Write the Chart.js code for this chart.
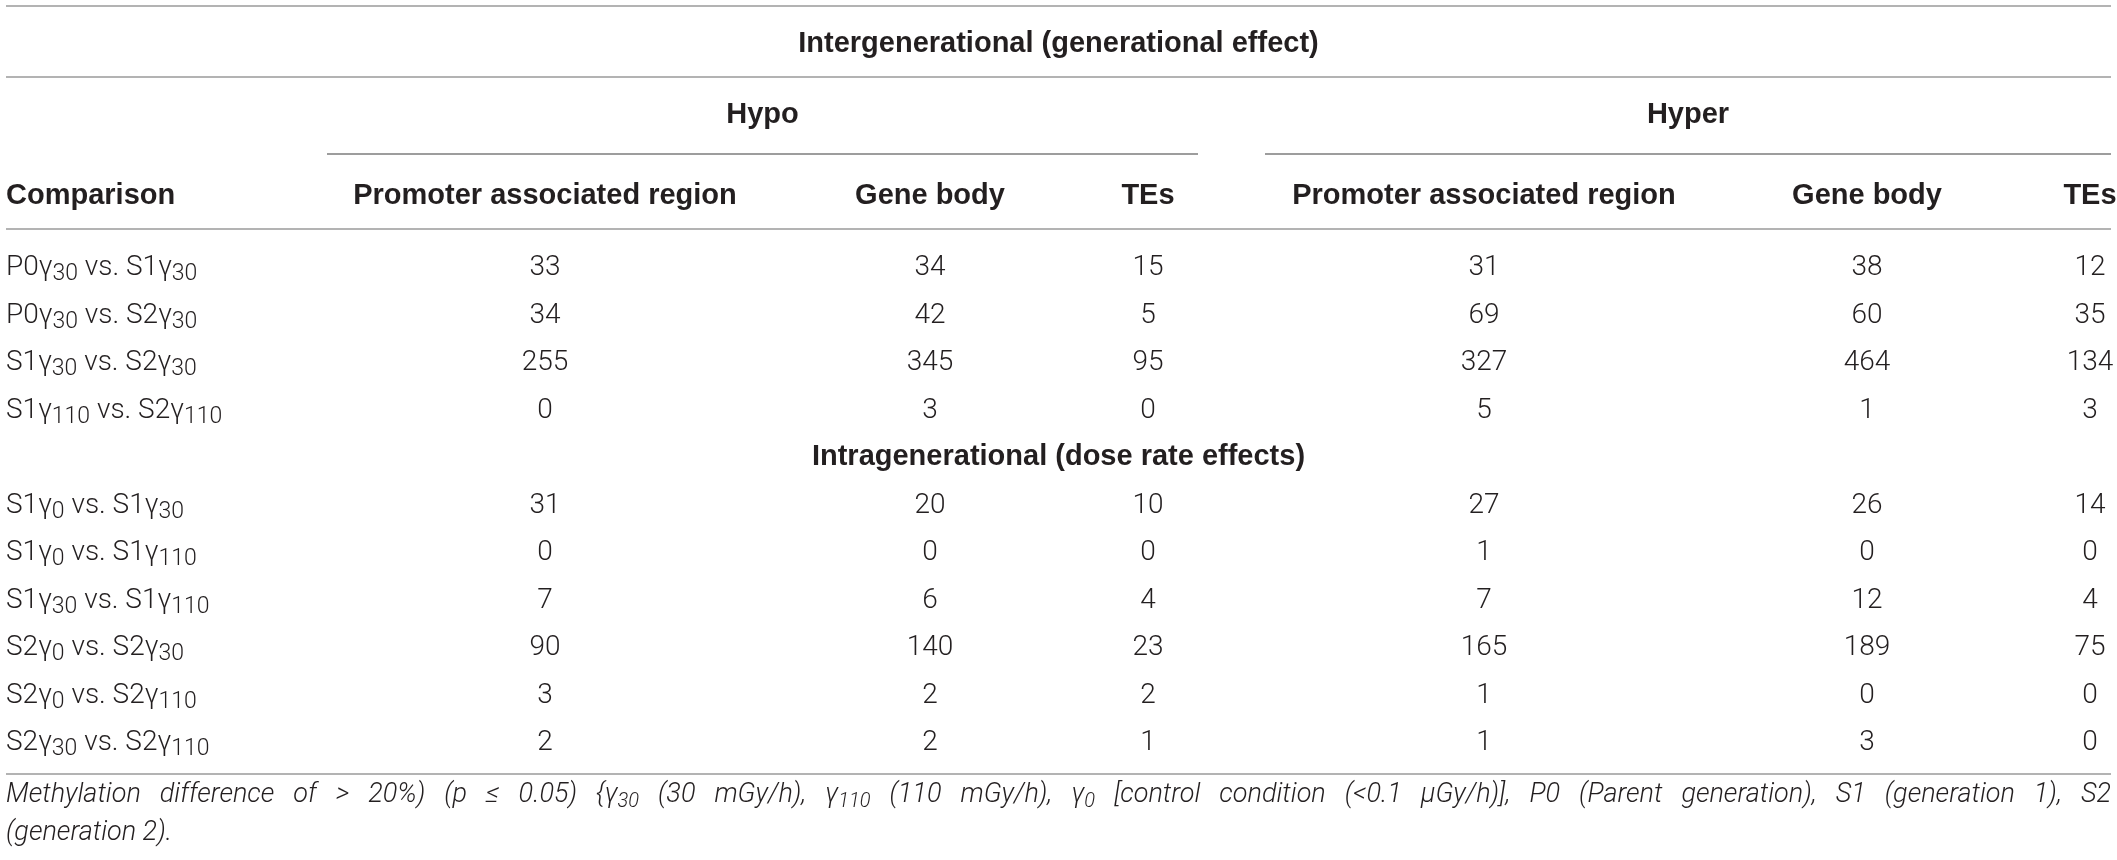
<!DOCTYPE html>
<html><head><meta charset="utf-8">
<script src="https://cdn.jsdelivr.net/npm/chart.js@4.4.0/dist/chart.umd.min.js"></script>
<style>html,body{margin:0;padding:0;background:#fff;}#wrap{width:2117px;height:860px;position:relative;}</style>
</head><body><div id="wrap"><canvas id="c"></canvas></div>
<script>
// ---- data ----
const sectionTitles = ["Intergenerational (generational effect)", "Intragenerational (dose rate effects)"];
const groups = ["Hypo", "Hyper"];
const columns = ["Promoter associated region", "Gene body", "TEs"];
const firstHeader = "Comparison";
const comparisons = ["P0γ30 vs. S1γ30", "P0γ30 vs. S2γ30", "S1γ30 vs. S2γ30", "S1γ110 vs. S2γ110",
  "S1γ0 vs. S1γ30", "S1γ0 vs. S1γ110", "S1γ30 vs. S1γ110", "S2γ0 vs. S2γ30", "S2γ0 vs. S2γ110", "S2γ30 vs. S2γ110"];
const hypoPromoter  = [33, 34, 255, 0, 31, 0, 7, 90, 3, 2];
const hypoGeneBody  = [34, 42, 345, 3, 20, 0, 6, 140, 2, 2];
const hypoTEs       = [15, 5, 95, 0, 10, 0, 4, 23, 2, 1];
const hyperPromoter = [31, 69, 327, 5, 27, 1, 7, 165, 1, 1];
const hyperGeneBody = [38, 60, 464, 1, 26, 0, 12, 189, 0, 3];
const hyperTEs      = [12, 35, 134, 3, 14, 0, 4, 75, 0, 0];
const footnoteLines = ["Methylation difference of > 20%) (p ≤ 0.05) {γ30 (30 mGy/h), γ110 (110 mGy/h), γ0 [control condition (<0.1 μGy/h)], P0 (Parent generation), S1 (generation 1), S2",
  "(generation 2)."];

// ---- layout / style ----
const L = {
  W: 2117, H: 860, left: 6, right: 2111,
  colX: [545, 930, 1148, 1484, 1867, 2090],
  groupSpan: [[327, 1198], [1265, 2111]],
  rules: [6, 77, 229, 774], groupRule: 154,
  base: { title: 52, group: 123, header: 204, foot1: 802, foot2: 840 },
  rowTop: 241.25, rowH: 47.5
};
const C = { text: '#231f20', rule: '#9a9a9a', rule2: '#7d7d7d' };
const F = {
  bold: 'bold 29px "Liberation Sans", Arial, sans-serif',
  light: '300 28px Roboto, "Liberation Sans", sans-serif',
  lightSub: '300 23px Roboto, "Liberation Sans", sans-serif',
  foot: 'italic 300 27px Roboto, "Liberation Sans", sans-serif',
  footSub: 'italic 300 20px Roboto, "Liberation Sans", sans-serif'
};

const rowLabels = [...comparisons.slice(0, 4), sectionTitles[1], ...comparisons.slice(4)];
const series = [hypoPromoter, hypoGeneBody, hypoTEs, hyperPromoter, hyperGeneBody, hyperTEs];

function runs(str) {
  const out = []; const re = /γ(\d+)/g; let last = 0, m;
  while ((m = re.exec(str))) {
    out.push({ t: str.slice(last, m.index + 1), sub: false });
    out.push({ t: m[1], sub: true });
    last = re.lastIndex;
  }
  out.push({ t: str.slice(last), sub: false });
  return out.filter(r => r.t.length);
}
function richWidth(ctx, rs, f, fs) {
  let w = 0;
  for (const r of rs) { ctx.font = r.sub ? fs : f; w += ctx.measureText(r.t).width; }
  return w;
}
function drawRich(ctx, str, x, y, f, fs, dy) {
  const rs = runs(str);
  for (const r of rs) {
    ctx.font = r.sub ? fs : f;
    ctx.fillText(r.t, x, r.sub ? y + dy : y);
    x += ctx.measureText(r.t).width;
  }
  return x;
}

const tablePlugin = {
  id: 'tablePlugin',
  afterDraw(chart) {
    const ctx = chart.ctx, xs = chart.scales.x, ys = chart.scales.y;
    const X = v => xs.getPixelForValue(v);
    ctx.save();
    // rules
    ctx.lineWidth = 1.6;
    ctx.strokeStyle = C.rule;
    for (const y of L.rules) {
      ctx.beginPath(); ctx.moveTo(X(L.left), y); ctx.lineTo(X(L.right), y); ctx.stroke();
    }
    ctx.strokeStyle = C.rule2;
    for (const [a, b] of L.groupSpan) {
      ctx.beginPath(); ctx.moveTo(X(a), L.groupRule); ctx.lineTo(X(b), L.groupRule); ctx.stroke();
    }
    ctx.fillStyle = C.text;
    ctx.textBaseline = 'alphabetic';
    // title
    ctx.font = F.bold; ctx.textAlign = 'center';
    ctx.fillText(sectionTitles[0], X((L.left + L.right) / 2), L.base.title);
    groups.forEach((g, i) => {
      const [a, b] = L.groupSpan[i];
      ctx.fillText(g, X((a + b) / 2), L.base.group);
    });
    // column headers
    ctx.textAlign = 'left';
    ctx.fillText(firstHeader, X(L.left), L.base.header);
    ctx.textAlign = 'center';
    for (let g = 0; g < 2; g++) columns.forEach((c, i) => {
      ctx.fillText(c, X(L.colX[g * 3 + i]), L.base.header);
    });
    // rows
    rowLabels.forEach((lab, i) => {
      const y = ys.getPixelForValue(i);
      if (lab === sectionTitles[1]) {
        ctx.font = F.bold; ctx.textAlign = 'center';
        ctx.fillText(lab, X((L.left + L.right) / 2), y + 10.4);
      } else {
        ctx.textAlign = 'left';
        drawRich(ctx, lab, X(L.left), y + 10, F.light, F.lightSub, 5);
      }
    });
    // values from dataset elements
    ctx.font = F.light; ctx.textAlign = 'center';
    chart.data.datasets.forEach((ds, di) => {
      const meta = chart.getDatasetMeta(di);
      meta.data.forEach((el, k) => {
        ctx.fillText(String(ds.data[k].v), el.x, el.y + 10);
      });
    });
    // footnote
    ctx.textAlign = 'left';
    const words = footnoteLines[0].split(' ');
    const ws = words.map(w => richWidth(ctx, runs(w), F.foot, F.footSub));
    const tot = ws.reduce((a, b) => a + b, 0);
    const gap = (X(L.right) - X(L.left) - tot) / (words.length - 1);
    let x = X(L.left);
    words.forEach((w, i) => {
      drawRich(ctx, w, x, L.base.foot1, F.foot, F.footSub, 5);
      x += ws[i] + gap;
    });
    drawRich(ctx, footnoteLines[1], X(L.left), L.base.foot2, F.foot, F.footSub, 5);
    ctx.restore();
  }
};

const datasets = series.map((vals, s) => ({
  label: columns[s % 3] + ' (' + groups[Math.floor(s / 3)] + ')',
  data: vals.map((v, i) => ({ x: L.colX[s], y: comparisons[i], v })),
  pointRadius: 0, pointHoverRadius: 0, showLine: false
}));

new Chart(document.getElementById('c'), {
  type: 'scatter',
  data: { datasets },
  options: {
    responsive: true, maintainAspectRatio: false, animation: false,
    events: [],
    layout: { padding: { top: L.rowTop, bottom: L.H - L.rowTop - rowLabels.length * L.rowH, left: 0, right: 0 } },
    plugins: { legend: { display: false }, tooltip: { enabled: false } },
    scales: {
      x: { type: 'linear', min: 0, max: L.W, display: false },
      y: { type: 'category', labels: rowLabels, offset: true, display: false }
    }
  },
  plugins: [tablePlugin]
});
</script>
</body></html>
